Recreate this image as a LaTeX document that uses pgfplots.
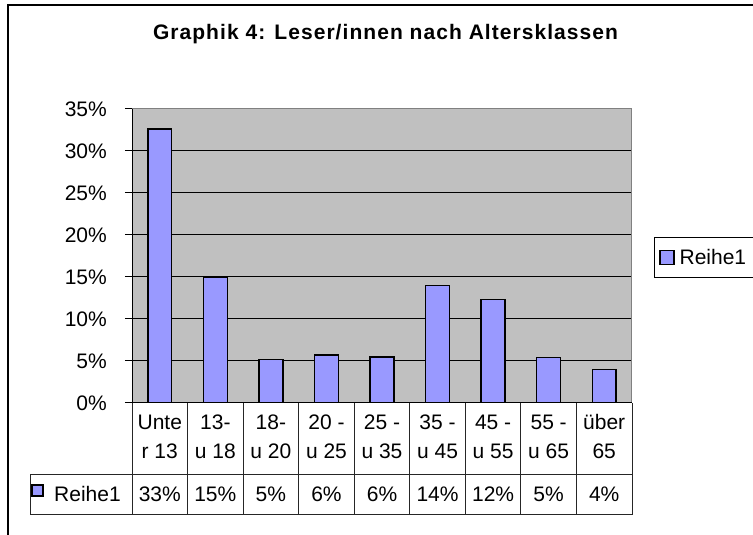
\documentclass[border=0pt]{standalone}
\usepackage{fontspec}
\setmainfont{Liberation Sans}
\newfontfamily\titlefont[LetterSpace=5]{Liberation Sans}
\usepackage{pgfplots}
\pgfplotsset{compat=1.18}
\usepackage{pgfplotstable}

\definecolor{barblue}{HTML}{9999FF}
\definecolor{plotgray}{HTML}{C0C0C0}

% share of readers per age class (percent)
\pgfplotstableread{
idx value
0 32.6
1 15.0
2 5.2
3 5.7
4 5.5
5 14.0
6 12.3
7 5.4
8 4.0
}\agedata

\newcommand{\lbl}{\fontsize{21}{25}\selectfont}

\begin{document}
\begin{tikzpicture}[x=1pt,y=1pt]
\useasboundingbox (0,0) rectangle (753,535);
% chart frame (only left and top edge are inside the crop)
\draw[line width=1.5pt] (8,-20) -- (8,530) -- (790,530);
\node[font=\titlefont\fontsize{21}{25}\selectfont\bfseries] at (385.5,501)
  {Graphik 4: Leser/innen nach Altersklassen};

\begin{axis}[
    at={(132pt,132pt)}, anchor=south west,
    scale only axis, width=500pt, height=294pt,
    xmin=-0.5, xmax=8.5, ymin=0, ymax=35,
    ybar, bar width=0.43,
    axis background/.style={fill=plotgray},
    axis line style={draw=gray, line width=1pt},
    xtick=\empty,
    ytick={0,5,...,35},
    yticklabel={\pgfmathprintnumber{\tick}\%},
    /pgf/number format/assume math mode=true,
    ytick pos=left, tick align=outside, major tick length=7pt,
    tick style={black, line width=1pt},
    ymajorgrids, grid style={black, line width=1pt},
    y tick label style={font=\lbl, anchor=east, inner sep=0pt, xshift=-18pt},
    legend style={at={(1.044,0.495)}, anchor=west, draw=black, line width=0.8pt,
      font=\lbl, inner xsep=5pt, inner ysep=10pt},
    legend image code/.code={\draw[fill=barblue, draw=black, line width=1.2pt]
      (0pt,-7pt) rectangle (14pt,7pt);},
]
\addplot[fill=barblue, draw=black, line width=1.5pt] table[x=idx, y=value]{\agedata};
\addlegendentry{\hspace{3pt}Reihe1\hspace{40pt}}
\draw[black, line width=1pt] (rel axis cs:0,1) -- (rel axis cs:0,0) -- (rel axis cs:1,0);
\end{axis}

% data table below the plot
\draw[line width=1pt, black!85] (30,60) -- (632,60) (30,20) -- (632,20) (30,20) -- (30,60);
\foreach \i in {0,...,9}
  \draw[line width=1pt, black!85] (132+\i*55.5556,20) -- (132+\i*55.5556,132);
\foreach \i/\a/\b/\v in {0/Unte/r 13/33\%, 1/13-/u 18/15\%, 2/18-/u 20/5\%,
    3/20 -/u 25/6\%, 4/25 -/u 35/6\%, 5/35 -/u 45/14\%, 6/45 -/u 55/12\%,
    7/55 -/u 65/5\%, 8/über/65/4\%} {
  \node[font=\lbl, anchor=base, inner sep=0pt] at (159.78+\i*55.5556,105) {\a};
  \node[font=\lbl, anchor=base, inner sep=0pt] at (159.78+\i*55.5556,76) {\b};
  \node[font=\lbl, anchor=base, inner sep=0pt] at (159.78+\i*55.5556,33) {\v};
}
\draw[fill=barblue, draw=black, line width=1.2pt] (32,39) rectangle (43,50);
\node[font=\lbl, anchor=base west, inner sep=0pt] at (54,33) {Reihe1};
\end{tikzpicture}
\end{document}
